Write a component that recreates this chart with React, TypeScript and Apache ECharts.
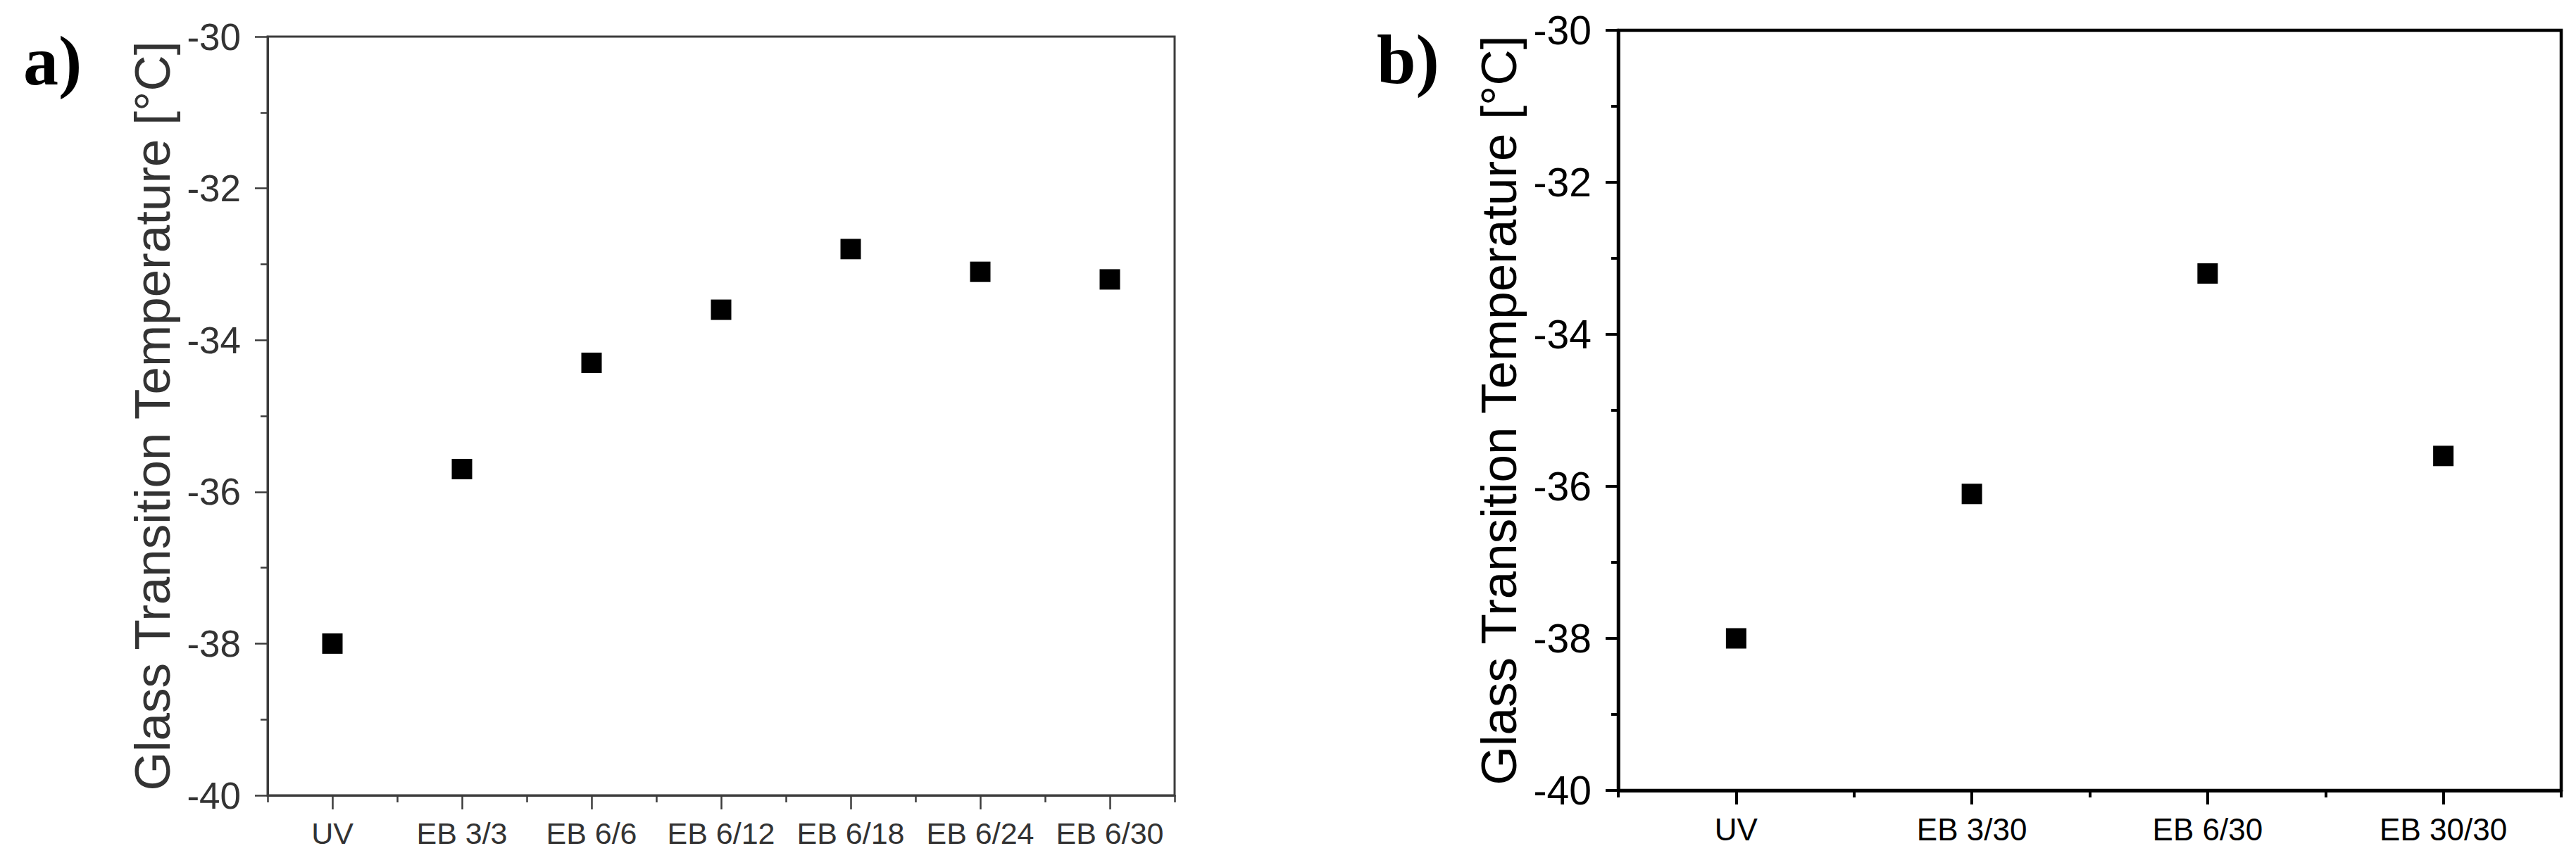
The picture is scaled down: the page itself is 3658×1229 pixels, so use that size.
import React, { useEffect, useRef } from "react";
import * as echarts from "echarts";

const categoriesA = ["UV", "EB 3/3", "EB 6/6", "EB 6/12", "EB 6/18", "EB 6/24", "EB 6/30"];
const tgValuesA = [-38.0, -35.7, -34.3, -33.6, -32.8, -33.1, -33.2];
const categoriesB = ["UV", "EB 3/30", "EB 6/30", "EB 30/30"];
const tgValuesB = [-38.0, -36.1, -33.2, -35.6];
const yMin = -40;
const yMax = -30;
const yStep = 2;
const yTitle = "Glass Transition Temperature [°C]";
const panelLabels = ["a)", "b)"];

const SANS = "'Liberation Sans', Arial, sans-serif";
const SERIF = "'Liberation Serif', 'Times New Roman', serif";

export default function App() {
  const ref = useRef<HTMLDivElement>(null);
  useEffect(() => {
    if (!ref.current) return;
    const chart = echarts.init(ref.current, undefined, { renderer: "svg" });
    const styles = [
      { line: "#3c3c3c", text: "#333333", lw: 3, yFont: 53, xFont: 43, xMargin: 32, nameGap: 128 },
      { line: "#000000", text: "#000000", lw: 4.5, yFont: 57, xFont: 44, xMargin: 33, nameGap: 134 },
    ];
    const grids = [
      { left: 380, top: 52, width: 1288, height: 1078 },
      { left: 2298, top: 43, width: 1339, height: 1080 },
    ];
    const cats = [categoriesA, categoriesB];
    const vals = [tgValuesA, tgValuesB];

    const xAxis: any[] = [];
    const yAxis: any[] = [];
    const series: any[] = [];
    for (let i = 0; i < 2; i++) {
      const s = styles[i];
      xAxis.push({
        type: "category",
        gridIndex: i,
        position: "bottom",
        data: cats[i],
        boundaryGap: true,
        axisLine: { show: true, lineStyle: { color: s.line, width: s.lw } },
        axisTick: { show: true, alignWithLabel: true, length: 20, lineStyle: { color: s.line, width: s.lw - 0.5 } },
        axisLabel: { show: true, margin: s.xMargin, fontSize: s.xFont, color: s.text, fontFamily: SANS, interval: 0 },
        splitLine: { show: false },
      });
      xAxis.push({
        type: "category",
        gridIndex: i,
        position: "bottom",
        offset: 0,
        data: cats[i],
        boundaryGap: true,
        axisLine: { show: true, lineStyle: { color: s.line, width: s.lw } },
        axisTick: { show: true, alignWithLabel: false, length: 10, interval: 0, lineStyle: { color: s.line, width: s.lw - 0.5 } },
        axisLabel: { show: false },
        splitLine: { show: false },
      });
      yAxis.push({
        type: "value",
        gridIndex: i,
        position: "left",
        min: yMin,
        max: yMax,
        interval: yStep,
        name: yTitle,
        nameLocation: "middle",
        nameGap: s.nameGap,
        nameTextStyle: { fontSize: 71, color: s.text, fontFamily: SANS },
        axisLine: { show: true, lineStyle: { color: s.line, width: s.lw } },
        axisTick: { show: true, length: 18, lineStyle: { color: s.line, width: s.lw - 0.5 } },
        minorTick: { show: true, splitNumber: 2, length: 10, lineStyle: { color: s.line, width: s.lw - 0.5 } },
        axisLabel: { margin: 38, fontSize: s.yFont, color: s.text, fontFamily: SANS },
        splitLine: { show: false },
        minorSplitLine: { show: false },
      });
      series.push({
        type: "scatter",
        xAxisIndex: i * 2,
        yAxisIndex: i,
        data: vals[i],
        symbol: "rect",
        symbolSize: 29,
        itemStyle: { color: "#000000", opacity: 1 },
      });
    }

    chart.setOption({
      animation: false,
      backgroundColor: "#ffffff",
      grid: grids.map((g, i) => ({
        ...g,
        show: true,
        borderColor: styles[i].line,
        borderWidth: styles[i].lw,
        backgroundColor: "transparent",
        containLabel: false,
      })),
      xAxis,
      yAxis,
      series,
      graphic: [
        {
          type: "text",
          left: 33,
          top: 36,
          style: { text: panelLabels[0], font: `bold 100px ${SERIF}`, fill: "#000" },
        },
        {
          type: "text",
          left: 1955,
          top: 34,
          style: { text: panelLabels[1], font: `bold 100px ${SERIF}`, fill: "#000" },
        },
      ],
    });
    return () => chart.dispose();
  }, []);
  return (
    <div
      ref={ref}
      style={{ position: "fixed", left: 0, top: 0, width: 3658, height: 1229, background: "#fff" }}
    />
  );
}
